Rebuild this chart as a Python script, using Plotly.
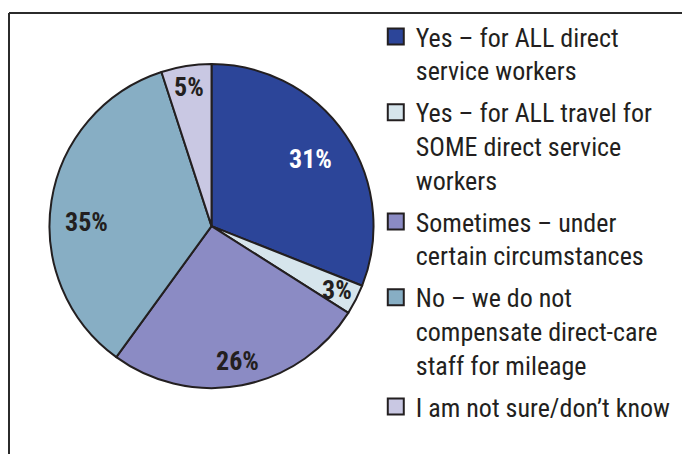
import math
import plotly.graph_objects as go

categories = [
    "Yes – for ALL direct<br>service workers",
    "Yes – for ALL travel for<br>SOME direct service<br>workers",
    "Sometimes – under<br>certain circumstances",
    "No – we do not<br>compensate direct-care<br>staff for mileage",
    "I am not sure/don’t know",
]
values = [31, 3, 26, 35, 5]

# styles
colors = ["#2C4599", "#D6E5EC", "#8B8BC4", "#87AEC4", "#C9C8E3"]
text_colors = ["#FFFFFF", "#231F20", "#231F20", "#231F20", "#231F20"]
label_radius = [0.74, 0.87, 0.85, 0.77, 0.87]
label_angle_shift = [0, 0, 0, -7, 0]

FONT = "Liberation Sans Narrow, Arial Narrow, Roboto Condensed, sans-serif"
DARK = "#231F20"
XDOM = [0.0726, 0.5477]
YDOM = [0.145, 0.859]

fig = go.Figure()
fig.add_trace(
    go.Pie(
        labels=categories,
        values=values,
        sort=False,
        direction="clockwise",
        rotation=0,
        marker=dict(colors=colors, line=dict(color=DARK, width=2)),
        textinfo="none",
        domain=dict(x=XDOM, y=YDOM),
        hoverinfo="label+percent",
        showlegend=False,
    )
)

# legend entries (one per slice)
for i, (lab, c) in enumerate(zip(categories, colors)):
    fig.add_trace(
        go.Scatter(
            x=[None], y=[None], mode="markers", name=lab,
            legendgroup=str(i),
            marker=dict(symbol="square", size=16, color=c,
                        line=dict(color=DARK, width=2)),
            hoverinfo="skip",
        )
    )

# slice percentage labels
total = sum(values)
annotations = []
cum = 0
for i, v in enumerate(values):
    mid = (cum + v / 2) / total * 360 + label_angle_shift[i]
    cum += v
    th = math.radians(mid)
    annotations.append(dict(
        x=label_radius[i] * math.sin(th), y=label_radius[i] * math.cos(th),
        xref="x", yref="y", text=f"{v}%", showarrow=False,
        font=dict(family=FONT, size=26, color=text_colors[i], weight="bold"),
    ))

fig.update_layout(
    width=682,
    height=454,
    margin=dict(l=0, r=0, t=0, b=0),
    paper_bgcolor="white",
    plot_bgcolor="rgba(0,0,0,0)",
    xaxis=dict(domain=XDOM, range=[-1, 1], visible=False, fixedrange=True),
    yaxis=dict(domain=YDOM, range=[-1, 1], visible=False, fixedrange=True),
    showlegend=True,
    legend=dict(
        x=0.551,
        y=0.971,
        xanchor="left",
        yanchor="top",
        font=dict(family=FONT, size=26, color=DARK),
        valign="top",
        tracegroupgap=5,
        itemsizing="trace",
        bgcolor="rgba(0,0,0,0)",
        borderwidth=0,
    ),
    annotations=annotations,
    shapes=[
        dict(type="line", xref="paper", yref="paper", x0=9 / 682, x1=1.05,
             y0=1 - 13 / 454, y1=1 - 13 / 454, line=dict(color="#2B2B2B", width=2)),
        dict(type="line", xref="paper", yref="paper", x0=9 / 682, x1=9 / 682,
             y0=1 - 13 / 454, y1=-0.05, line=dict(color="#2B2B2B", width=2)),
    ],
)

fig.write_html("out.html")
